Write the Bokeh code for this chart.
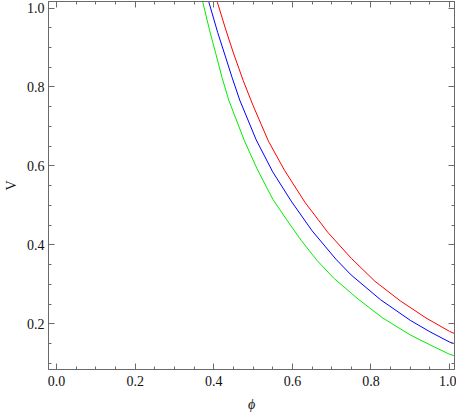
from bokeh.plotting import figure
from bokeh.models import LinearAxis, SingleIntervalTicker, PrintfTickFormatter, Range1d
from bokeh.embed import file_html
from bokeh.resources import INLINE

# values
phi_red = [0.409, 0.43, 0.45, 0.475, 0.50, 0.539, 0.58, 0.632, 0.69, 0.75, 0.81, 0.875, 0.94, 1.0, 1.014]
v_red = [1.015, 0.947, 0.886, 0.816, 0.753, 0.663, 0.589, 0.508, 0.432, 0.366, 0.308, 0.258, 0.215, 0.181, 0.175]

phi_blue = [0.3875, 0.41, 0.43, 0.4466, 0.466, 0.508, 0.55, 0.597, 0.65, 0.7106, 0.7494, 0.8246, 0.90, 0.95, 1.0, 1.0144]
v_blue = [1.015, 0.938, 0.876, 0.824, 0.767, 0.666, 0.585, 0.511, 0.436, 0.364, 0.324, 0.261, 0.209, 0.180, 0.154, 0.149]

phi_green = [0.372, 0.39, 0.405, 0.421, 0.438, 0.477, 0.51, 0.55, 0.586, 0.622, 0.6625, 0.705, 0.7494, 0.7696, 0.83, 0.90, 0.95, 1.0, 1.0144]
v_green = [1.015, 0.941, 0.885, 0.824, 0.767, 0.666, 0.593, 0.516, 0.463, 0.412, 0.361, 0.316, 0.278, 0.261, 0.215, 0.172, 0.147, 0.123, 0.119]

x_label = "ϕ"
y_label = "V"

FONT = "Liberation Serif"
GRAY = "#6a6a6a"

p = figure(width=456, height=415, output_backend="svg", toolbar_location=None,
           x_range=Range1d(-0.0205, 1.0125), y_range=Range1d(0.0845, 1.0165),
           x_axis_type=None, y_axis_type=None,
           min_border_left=46, min_border_right=2, min_border_top=1, min_border_bottom=46)
p.grid.visible = False
p.outline_line_color = GRAY
p.background_fill_color = "white"
p.border_fill_color = "white"

def make_axis(labels):
    ax = LinearAxis(ticker=SingleIntervalTicker(interval=0.2, num_minor_ticks=4),
                    formatter=PrintfTickFormatter(format="%.1f"))
    ax.axis_line_color = GRAY
    ax.major_tick_line_color = GRAY
    ax.minor_tick_line_color = GRAY
    ax.major_tick_in = 6
    ax.major_tick_out = 0
    ax.minor_tick_in = 3
    ax.minor_tick_out = 0
    if labels:
        ax.major_label_text_font = FONT
        ax.major_label_text_font_size = "14px"
        ax.major_label_text_color = "#111111"
        ax.axis_label_text_font = FONT
        ax.axis_label_text_font_size = "14px"
        ax.axis_label_text_color = "#111111"
    else:
        ax.major_label_text_font_size = "0px"
        ax.major_label_text_color = None
        ax.major_label_standoff = 0
    return ax

xb = make_axis(True)
xb.axis_label = x_label
xb.axis_label_text_font_style = "italic"
xb.major_label_standoff = 6
xb.axis_label_standoff = 8
p.add_layout(xb, "below")

yl = make_axis(True)
yl.axis_label = y_label
yl.axis_label_text_font_style = "normal"
yl.major_label_standoff = 4
yl.axis_label_standoff = 5
p.add_layout(yl, "left")

p.add_layout(make_axis(False), "above")
p.add_layout(make_axis(False), "right")

p.line(phi_red, v_red, line_color="#ff0000", line_width=1)
p.line(phi_blue, v_blue, line_color="#0000ff", line_width=1)
p.line(phi_green, v_green, line_color="#00ee00", line_width=1)

open("out.html", "w").write(file_html(p, INLINE))
